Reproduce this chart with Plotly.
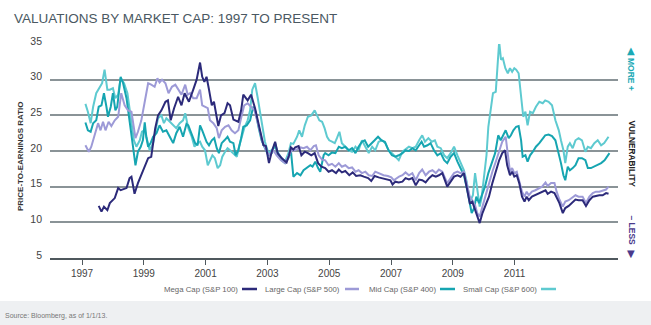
import plotly.graph_objects as go

# ---------------- data ----------------
mega_x = [1997.54, 1997.63, 1997.71, 1997.82, 1997.90, 1998.06, 1998.17, 1998.25, 1998.44, 1998.54,
          1998.60, 1998.70, 1998.81, 1998.97, 1999.14, 1999.24, 1999.37, 1999.46, 1999.57, 1999.70,
          1999.78, 1999.87, 1999.98, 2000.11, 2000.22, 2000.32, 2000.46, 2000.60, 2000.71, 2000.82,
          2000.89, 2000.96, 2001.03, 2001.11, 2001.20, 2001.27, 2001.36, 2001.41, 2001.50, 2001.61,
          2001.71, 2001.79, 2001.90, 2002.06, 2002.15, 2002.22, 2002.36, 2002.47, 2002.60, 2002.73,
          2002.87, 2002.95, 2003.05, 2003.14, 2003.25, 2003.33, 2003.46, 2003.62, 2003.70, 2003.76,
          2003.84, 2003.90, 2004.01, 2004.10, 2004.21, 2004.31, 2004.42, 2004.53, 2004.64, 2004.75,
          2004.87, 2004.98, 2005.09, 2005.22, 2005.31, 2005.41, 2005.52, 2005.65, 2005.76, 2005.87,
          2006.01, 2006.12, 2006.26, 2006.36, 2006.47, 2006.60, 2006.73, 2006.87, 2006.98, 2007.05,
          2007.14, 2007.25, 2007.37, 2007.47, 2007.58, 2007.69, 2007.80, 2007.91, 2008.01, 2008.12,
          2008.23, 2008.34, 2008.45, 2008.55, 2008.66, 2008.82, 2008.93, 2009.04, 2009.15, 2009.25,
          2009.36, 2009.47, 2009.55, 2009.63, 2009.72, 2009.79, 2009.87, 2009.96, 2010.06, 2010.17,
          2010.28, 2010.39, 2010.50, 2010.60, 2010.69, 2010.76, 2010.80, 2010.85, 2010.92, 2010.99,
          2011.07, 2011.15, 2011.24, 2011.32, 2011.39, 2011.46, 2011.56, 2011.67, 2011.78, 2011.89,
          2012.00, 2012.07, 2012.18, 2012.29, 2012.36, 2012.45, 2012.56, 2012.64, 2012.75, 2012.86,
          2012.97, 2013.07, 2013.20, 2013.31, 2013.42, 2013.53, 2013.63, 2013.74, 2013.85, 2013.96,
          2014.04]
mega_y = [12.3, 11.5, 12.2, 11.7, 12.7, 13.4, 14.8, 14.5, 14.8, 16.2,
          16.4, 14.0, 15.5, 17.3, 19.0, 19.2, 23.2, 25.0, 25.7, 26.9,
          27.1, 24.3, 26.0, 27.6, 26.4, 28.1, 26.9, 28.6, 30.0, 32.4,
          30.4, 29.7, 30.4, 28.6, 26.4, 26.9, 24.3, 23.5, 25.0, 25.3,
          26.7, 26.4, 24.4, 24.1, 25.7, 27.9, 27.1, 27.9, 26.0, 23.4,
          20.8, 20.7, 18.3, 19.9, 21.3, 19.7, 19.0, 18.4, 19.4, 20.5,
          20.2, 20.5, 20.7, 19.4, 19.9, 19.7, 19.4, 19.7, 18.3, 17.8,
          17.6, 17.1, 17.3, 16.9, 17.4, 17.0, 17.2, 16.6, 17.0, 16.5,
          16.6, 16.4, 16.2, 15.8, 16.5, 16.3, 16.2, 16.0, 15.9, 15.3,
          15.7, 15.6, 15.7, 16.2, 16.0, 16.2, 15.2, 16.0, 15.9, 15.6,
          16.2, 16.6, 16.4, 16.6, 16.9, 15.0, 15.7, 16.4, 16.6, 16.4,
          16.9, 14.3, 12.7, 12.9, 11.7, 10.8, 9.9, 11.3, 12.4, 13.6,
          15.5, 17.1, 18.7, 19.7, 20.1, 18.0, 17.2, 16.6, 17.1, 16.4,
          16.6, 15.5, 13.6, 12.9, 13.6, 13.1, 13.6, 13.8, 14.0, 14.2,
          14.5, 14.0, 14.3, 14.1, 13.4, 12.7, 11.3, 12.0, 12.3, 12.7,
          13.2, 13.1, 13.1, 12.3, 13.1, 13.6, 13.7, 13.8, 13.8, 14.1,
          14.0]

large_x = [1997.11, 1997.22, 1997.30, 1997.41, 1997.52, 1997.60, 1997.68, 1997.76, 1997.86, 1997.95,
           1998.06, 1998.17, 1998.27, 1998.38, 1998.49, 1998.60, 1998.65, 1998.73, 1998.81, 1998.92,
           1999.03, 1999.14, 1999.24, 1999.35, 1999.44, 1999.51, 1999.59, 1999.70, 1999.80, 1999.91,
           2000.02, 2000.11, 2000.22, 2000.34, 2000.42, 2000.50, 2000.60, 2000.71, 2000.82, 2000.89,
           2000.98, 2001.07, 2001.14, 2001.25, 2001.36, 2001.43, 2001.52, 2001.63, 2001.74, 2001.84,
           2001.95, 2002.06, 2002.17, 2002.25, 2002.36, 2002.47, 2002.58, 2002.71, 2002.84, 2002.98,
           2003.08, 2003.19, 2003.30, 2003.44, 2003.57, 2003.68, 2003.78, 2003.89, 2003.93, 2004.07,
           2004.17, 2004.28, 2004.39, 2004.50, 2004.57, 2004.66, 2004.77, 2004.87, 2004.98, 2005.09,
           2005.20, 2005.31, 2005.41, 2005.52, 2005.63, 2005.74, 2005.85, 2005.95, 2006.06, 2006.17,
           2006.28, 2006.39, 2006.49, 2006.62, 2006.76, 2006.90, 2007.01, 2007.09, 2007.19, 2007.26,
           2007.37, 2007.47, 2007.58, 2007.69, 2007.80, 2007.91, 2008.01, 2008.12, 2008.23, 2008.34,
           2008.45, 2008.55, 2008.66, 2008.82, 2008.93, 2009.04, 2009.15, 2009.25, 2009.36, 2009.47,
           2009.55, 2009.63, 2009.72, 2009.79, 2009.87, 2009.96, 2010.06, 2010.17, 2010.28, 2010.39,
           2010.50, 2010.60, 2010.71, 2010.76, 2010.80, 2010.85, 2010.92, 2010.99, 2011.07, 2011.15,
           2011.24, 2011.32, 2011.39, 2011.46, 2011.56, 2011.67, 2011.78, 2011.89, 2012.00, 2012.07,
           2012.18, 2012.29, 2012.36, 2012.45, 2012.56, 2012.64, 2012.75, 2012.86, 2012.97, 2013.07,
           2013.20, 2013.31, 2013.42, 2013.53, 2013.63, 2013.74, 2013.85, 2013.96, 2014.04]
large_y = [20.8, 19.9, 20.6, 22.2, 23.9, 22.9, 24.1, 22.9, 24.1, 23.5,
           24.3, 24.8, 28.1, 26.4, 25.7, 25.5, 23.9, 21.8, 22.7, 24.3,
           26.9, 29.5, 29.3, 29.0, 30.2, 29.6, 30.0, 29.5, 28.1, 29.0,
           29.3, 28.6, 27.9, 29.3, 27.9, 28.1, 27.4, 27.4, 28.6, 26.4,
           26.2, 26.0, 24.3, 23.9, 23.2, 21.8, 22.9, 23.4, 23.6, 22.9,
           22.5, 22.9, 25.0, 26.4, 26.7, 26.2, 25.7, 23.6, 21.3, 19.9,
           19.4, 20.1, 19.4, 18.7, 18.3, 19.2, 20.1, 20.1, 20.2, 20.5,
           20.4, 20.6, 20.1, 20.7, 20.8, 19.4, 18.8, 18.7, 18.0, 18.2,
           17.8, 18.3, 17.8, 18.0, 17.6, 17.7, 17.1, 17.3, 16.9, 17.1,
           16.6, 16.5, 17.1, 16.9, 16.6, 16.5, 16.3, 15.9, 16.2, 16.4,
           16.6, 17.0, 16.6, 16.9, 15.9, 16.9, 17.4, 16.6, 17.1, 17.3,
           16.9, 17.4, 17.1, 15.5, 16.2, 16.9, 17.1, 16.9, 17.1, 15.0,
           13.6, 13.1, 12.4, 11.3, 10.8, 12.2, 13.8, 15.5, 17.1, 18.5,
           20.1, 21.3, 22.0, 20.3, 18.3, 17.1, 17.6, 16.9, 17.1, 15.9,
           14.3, 13.6, 14.3, 13.8, 14.3, 14.5, 14.8, 15.0, 15.6, 15.1,
           15.5, 15.5, 14.3, 13.2, 12.2, 12.9, 13.1, 13.4, 13.8, 13.6,
           13.6, 12.7, 13.6, 14.1, 14.3, 14.3, 14.5, 14.6, 15.0]

mid_x = [1997.11, 1997.19, 1997.28, 1997.36, 1997.46, 1997.54, 1997.63, 1997.71, 1997.79, 1997.84,
         1997.93, 1998.00, 1998.08, 1998.14, 1998.25, 1998.33, 1998.44, 1998.51, 1998.58, 1998.65,
         1998.73, 1998.81, 1998.90, 1998.97, 1999.03, 1999.08, 1999.14, 1999.22, 1999.30, 1999.41,
         1999.51, 1999.62, 1999.73, 1999.84, 1999.95, 2000.05, 2000.16, 2000.27, 2000.38, 2000.44,
         2000.55, 2000.66, 2000.74, 2000.82, 2000.89, 2000.96, 2001.03, 2001.11, 2001.20, 2001.28,
         2001.36, 2001.43, 2001.52, 2001.61, 2001.71, 2001.79, 2001.90, 2001.97, 2002.06, 2002.15,
         2002.22, 2002.33, 2002.44, 2002.54, 2002.62, 2002.71, 2002.81, 2002.92, 2003.03, 2003.14,
         2003.25, 2003.35, 2003.46, 2003.57, 2003.68, 2003.76, 2003.84, 2003.96, 2004.07, 2004.17,
         2004.28, 2004.39, 2004.46, 2004.55, 2004.64, 2004.71, 2004.82, 2004.87, 2004.98, 2005.09,
         2005.20, 2005.31, 2005.41, 2005.52, 2005.63, 2005.74, 2005.85, 2005.95, 2006.06, 2006.15,
         2006.26, 2006.36, 2006.47, 2006.58, 2006.69, 2006.80, 2006.92, 2007.03, 2007.14, 2007.25,
         2007.37, 2007.47, 2007.58, 2007.69, 2007.80, 2007.91, 2007.99, 2008.07, 2008.18, 2008.28,
         2008.39, 2008.50, 2008.61, 2008.72, 2008.82, 2008.93, 2009.04, 2009.15, 2009.25, 2009.36,
         2009.47, 2009.55, 2009.61, 2009.69, 2009.76, 2009.85, 2009.93, 2010.04, 2010.15, 2010.26,
         2010.37, 2010.47, 2010.55, 2010.63, 2010.71, 2010.81, 2010.88, 2010.96, 2011.05, 2011.13,
         2011.21, 2011.26, 2011.35, 2011.42, 2011.50, 2011.59, 2011.69, 2011.80, 2011.91, 2011.99,
         2012.10, 2012.21, 2012.32, 2012.43, 2012.50, 2012.58, 2012.64, 2012.72, 2012.79, 2012.88,
         2012.97, 2013.07, 2013.18, 2013.29, 2013.37, 2013.47, 2013.58, 2013.69, 2013.80, 2013.91,
         2014.01, 2014.07]
mid_y = [24.0, 22.9, 22.7, 23.9, 24.3, 26.2, 26.4, 28.1, 26.2, 24.8,
         26.2, 28.1, 25.7, 26.2, 30.4, 29.5, 27.4, 24.8, 22.9, 20.6,
         18.0, 19.9, 20.6, 21.5, 24.0, 22.0, 20.6, 21.1, 22.0, 22.5,
         23.6, 22.7, 22.9, 22.0, 21.1, 22.5, 23.4, 22.0, 23.8, 23.6,
         22.2, 21.1, 20.8, 23.6, 22.9, 22.0, 21.3, 20.8, 21.5, 21.8,
         20.4, 19.7, 21.1, 21.5, 22.0, 21.3, 21.1, 19.4, 20.1, 21.8,
         23.4, 23.6, 24.3, 26.2, 25.5, 23.4, 21.5, 20.4, 19.4, 19.7,
         21.1, 19.4, 18.7, 18.3, 19.0, 20.1, 16.4, 16.9, 16.6, 17.3,
         17.6, 18.0, 17.8, 18.5, 17.6, 17.1, 19.4, 19.7, 19.4, 19.8,
         19.7, 20.6, 20.4, 20.6, 20.1, 20.4, 19.7, 20.6, 21.3, 21.5,
         20.6, 21.1, 21.5, 22.0, 21.5, 21.3, 20.1, 19.4, 19.2, 19.4,
         19.7, 20.1, 20.0, 20.4, 20.1, 20.8, 21.3, 20.6, 20.8, 21.1,
         20.1, 19.4, 19.7, 18.7, 18.3, 19.2, 19.7, 18.5, 17.6, 16.6,
         14.5, 12.7, 11.3, 12.0, 13.6, 12.7, 13.6, 15.0, 16.9, 18.3,
         19.7, 22.2, 21.5, 22.2, 22.9, 21.8, 22.2, 22.9, 23.4, 23.5,
         21.5, 19.2, 19.4, 18.5, 19.4, 19.9, 20.6, 21.1, 21.8, 22.2,
         22.3, 22.1, 21.5, 19.7, 18.3, 16.6, 15.9, 17.8, 17.3, 17.6,
         18.0, 19.0, 19.0, 18.7, 17.6, 17.6, 17.8, 18.0, 18.3, 18.7,
         19.4, 19.7]

small_x = [1997.11, 1997.19, 1997.28, 1997.36, 1997.46, 1997.57, 1997.65, 1997.73, 1997.82, 1997.90,
           1998.00, 1998.08, 1998.17, 1998.25, 1998.36, 1998.47, 1998.54, 1998.62, 1998.68, 1998.76,
           1998.87, 1998.94, 1999.03, 1999.11, 1999.19, 1999.30, 1999.37, 1999.46, 1999.57, 1999.65,
           1999.73, 1999.84, 1999.95, 2000.05, 2000.16, 2000.27, 2000.34, 2000.44, 2000.55, 2000.64,
           2000.74, 2000.82, 2000.89, 2000.98, 2001.07, 2001.14, 2001.22, 2001.30, 2001.39, 2001.47,
           2001.54, 2001.63, 2001.71, 2001.79, 2001.90, 2002.01, 2002.08, 2002.17, 2002.25, 2002.36,
           2002.44, 2002.51, 2002.60, 2002.68, 2002.76, 2002.84, 2002.92, 2003.03, 2003.14, 2003.25,
           2003.35, 2003.46, 2003.57, 2003.68, 2003.76, 2003.84, 2003.96, 2004.03, 2004.12, 2004.21,
           2004.31, 2004.42, 2004.53, 2004.60, 2004.68, 2004.77, 2004.85, 2004.93, 2005.00, 2005.09,
           2005.18, 2005.25, 2005.33, 2005.41, 2005.52, 2005.63, 2005.74, 2005.85, 2005.95, 2006.06,
           2006.17, 2006.28, 2006.39, 2006.49, 2006.60, 2006.71, 2006.82, 2006.92, 2007.03, 2007.14,
           2007.25, 2007.37, 2007.47, 2007.58, 2007.69, 2007.80, 2007.91, 2008.01, 2008.10, 2008.21,
           2008.32, 2008.42, 2008.50, 2008.61, 2008.72, 2008.82, 2008.93, 2009.04, 2009.15, 2009.25,
           2009.36, 2009.45, 2009.52, 2009.58, 2009.65, 2009.72, 2009.79, 2009.87, 2009.93, 2010.01,
           2010.09, 2010.15, 2010.23, 2010.30, 2010.39, 2010.44, 2010.50, 2010.56, 2010.62, 2010.70,
           2010.78, 2010.85, 2010.92, 2010.99, 2011.05, 2011.13, 2011.21, 2011.28, 2011.35, 2011.42,
           2011.50, 2011.59, 2011.69, 2011.80, 2011.91, 2011.99, 2012.10, 2012.21, 2012.32, 2012.43,
           2012.50, 2012.58, 2012.64, 2012.72, 2012.79, 2012.88, 2012.97, 2013.07, 2013.18, 2013.29,
           2013.37, 2013.47, 2013.58, 2013.69, 2013.80, 2013.90, 2014.04]
small_y = [26.6, 25.5, 23.9, 26.2, 28.1, 29.0, 29.5, 31.4, 28.6, 28.6,
           28.8, 27.4, 27.9, 30.2, 29.5, 28.1, 25.7, 23.4, 21.5, 20.6,
           21.5, 22.7, 22.9, 21.5, 20.1, 21.1, 22.5, 24.6, 25.0, 23.9,
           24.6, 24.1, 23.6, 23.2, 23.9, 24.3, 25.3, 23.2, 22.0, 20.6,
           21.1, 21.3, 20.6, 20.1, 18.0, 18.7, 19.4, 19.0, 17.6, 18.0,
           19.2, 19.9, 20.4, 20.1, 19.7, 19.2, 20.6, 22.2, 23.2, 24.3,
           25.7, 28.6, 29.5, 27.6, 25.3, 22.9, 21.3, 19.7, 20.1, 20.6,
           19.7, 19.0, 18.5, 19.7, 21.1, 21.0, 22.0, 22.9, 22.0, 23.6,
           24.8, 25.0, 25.7, 25.0, 24.3, 24.1, 23.2, 22.0, 21.5, 21.3,
           21.1, 21.8, 22.7, 21.1, 20.6, 20.1, 19.9, 20.6, 20.1, 21.5,
           20.6, 19.7, 20.6, 20.1, 21.3, 21.5, 21.1, 20.1, 19.7, 19.2,
           18.7, 19.9, 20.2, 20.6, 20.4, 20.6, 21.5, 22.2, 21.3, 21.8,
           21.3, 21.5, 20.6, 20.4, 19.4, 19.0, 19.7, 20.6, 19.4, 18.3,
           17.3, 15.7, 13.8, 13.1, 13.8, 16.9, 15.0, 12.2, 13.4, 16.4,
           19.4, 23.4, 26.2, 28.1, 28.3, 31.8, 35.3, 32.8, 33.0, 31.6,
           30.9, 31.6, 31.1, 31.6, 31.4, 30.9, 27.6, 24.8, 25.5, 23.6,
           25.5, 25.3, 26.2, 26.9, 26.7, 27.1, 26.9, 26.4, 24.3, 22.9,
           21.5, 20.1, 18.3, 20.6, 21.1, 20.4, 21.5, 21.8, 21.5, 19.9,
           20.6, 20.4, 21.1, 21.5, 20.8, 21.1, 22.0]

series_names = ["Mega Cap (S&P 100)", "Large Cap (S&P 500)", "Mid Cap (S&P 400)", "Small Cap (S&P 600)"]
series_colors = ["#2c2a7a", "#9d9ad7", "#16a5b1", "#5ecad0"]

x_ticks = [1997, 1999, 2001, 2003, 2005, 2007, 2009, 2011]
y_ticks = [5, 10, 15, 20, 25, 30, 35]

TXT = "Liberation Sans, Arial, sans-serif"

fig = go.Figure()
# draw order: small, mid, large, mega (mega on top)
for xs, ys, i in [(small_x, small_y, 3), (mid_x, mid_y, 2), (large_x, large_y, 1), (mega_x, mega_y, 0)]:
    fig.add_trace(go.Scatter(x=xs, y=ys, mode="lines", name=series_names[i],
                             line=dict(color=series_colors[i], width=2), showlegend=False))

fig.update_layout(
    width=651, height=325,
    margin=dict(l=50, r=33, t=44, b=67),
    paper_bgcolor="white", plot_bgcolor="white",
    title=dict(text="VALUATIONS BY MARKET CAP: 1997 TO PRESENT", x=14/651, y=1-18/325,
               xanchor="left", yanchor="middle",
               font=dict(family=TXT, size=13.5, color="#4a5862")),
    xaxis=dict(range=[1995.964, 2014.346], tickvals=x_ticks, ticktext=[str(t) for t in x_ticks],
               showgrid=False, zeroline=False, showline=True, linecolor="#4f585d", linewidth=2,
               ticks="outside", ticklen=5, tickwidth=1, tickcolor="#4f585d",
               tickfont=dict(family=TXT, size=10, color="#444")),
    yaxis=dict(range=[5, 35], tickvals=y_ticks, showgrid=True, gridcolor="#8a9397", gridwidth=1.5,
               zeroline=False, showline=False, ticks="", ticklabelstandoff=7, ticklabelshift=-3,
               tickfont=dict(family=TXT, size=10.5, color="#444")),
)

def px_x(p):
    return (p - 50) / 568.0

def px_y(p):
    return (258 - p) / 214.0

ann = []
ann.append(dict(text="<b>PRICE-TO-EARNINGS RATIO</b>", x=px_x(20), y=px_y(157), textangle=-90,
                font=dict(family=TXT, size=8, color="#333")))
ann.append(dict(text="▲", x=px_x(631), y=px_y(50.5), font=dict(family="DejaVu Sans", size=10, color="#1aa9b5")))
ann.append(dict(text="<b>MORE +</b>", x=px_x(631.5), y=px_y(74.5), textangle=90,
                font=dict(family=TXT, size=8.5, color="#1aa9b5")))
ann.append(dict(text="<b>VULNERABILITY</b>", x=px_x(631.5), y=px_y(154), textangle=90,
                font=dict(family=TXT, size=8.3, color="#222")))
ann.append(dict(text="<b>– LESS</b>", x=px_x(631.5), y=px_y(230), textangle=90,
                font=dict(family=TXT, size=8.5, color="#4a3a8c")))
ann.append(dict(text="▼", x=px_x(631), y=px_y(253), font=dict(family="DejaVu Sans", size=10, color="#4a3a8c")))

legend_text_right = [240, 342, 438, 539]
legend_line = [(242, 257), (345, 359), (440, 455), (541, 556)]
shapes = []
for i in range(4):
    ann.append(dict(text=series_names[i], x=px_x(legend_text_right[i]), y=px_y(289), xanchor="right",
                    font=dict(family=TXT, size=7.8, color="#666")))
    shapes.append(dict(type="line", xref="paper", yref="paper",
                       x0=px_x(legend_line[i][0]), x1=px_x(legend_line[i][1]),
                       y0=px_y(289), y1=px_y(289), line=dict(color=series_colors[i], width=2.5)))

shapes.append(dict(type="rect", xref="paper", yref="paper", x0=px_x(-5), x1=px_x(660),
                   y0=px_y(301), y1=px_y(330), fillcolor="#eef0f2", line=dict(width=0), layer="below"))
ann.append(dict(text="Source: Bloomberg, as of 1/1/13.", x=px_x(3), y=px_y(316), xanchor="left",
                font=dict(family=TXT, size=7, color="#777")))

for a in ann:
    a.setdefault("xref", "paper")
    a.setdefault("yref", "paper")
    a.setdefault("showarrow", False)
    a.setdefault("xanchor", "center")
    a.setdefault("yanchor", "middle")
fig.update_layout(annotations=ann, shapes=shapes)

fig.write_html("out.html")
